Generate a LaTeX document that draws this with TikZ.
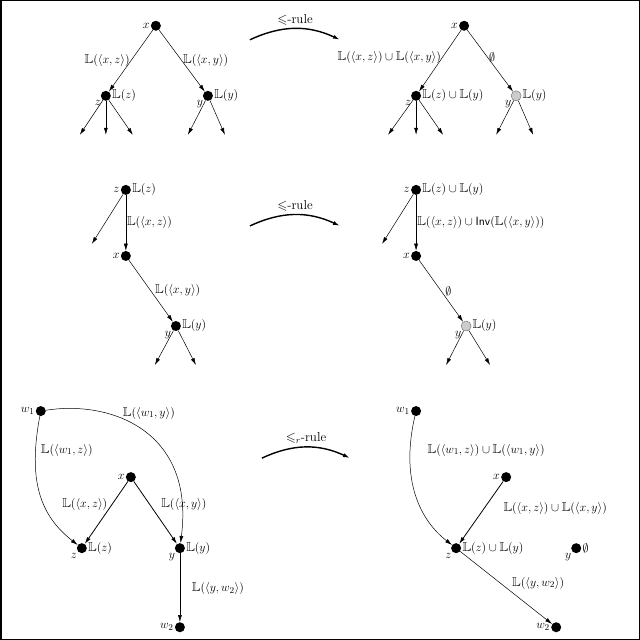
\documentclass[tikz,border=0pt]{standalone}
\usepackage{amssymb}
\usetikzlibrary{arrows.meta}
\begin{document}
\begin{tikzpicture}[x=1bp,y=-1bp,
  dot/.style={circle,fill=black,inner sep=0pt,minimum size=10bp},
  gdot/.style={circle,fill=black!20,draw=black!60,inner sep=0pt,minimum size=10bp},
  lab/.style={font=\fontsize{13}{15}\selectfont,inner sep=1bp},
  ed/.style={-{Latex[length=7bp,width=4bp]},line width=0.5bp},
  rule/.style={-{Latex[length=7bp,width=4bp]},line width=1.4bp,bend left=25}]
\draw[line width=1.5bp] (1,1) rectangle (639,639);
\tikzset{every node/.append style={lab}}
% ---- top left
\node[dot,label={[lab]left:$x$}] (a1) at (156,26) {};
\node[dot,label={[lab]below left:$z$},label={[lab]right:$\mathbb{L}(z)$}] (a2) at (106,96) {};
\node[dot,label={[lab]below left:$y$},label={[lab]right:$\mathbb{L}(y)$}] (a3) at (208,96) {};
\draw[ed] (a1) -- node[left]{$\mathbb{L}(\langle x,z\rangle)$} (a2);
\draw[ed] (a1) -- node[right]{$\mathbb{L}(\langle x,y\rangle)$} (a3);
\foreach \p/\n in {80/1,106/2,133/3}{\coordinate (al\n) at (\p,135); \draw[ed] (a2) -- (al\n);}
\foreach \p/\n in {188/1,225/2}{\coordinate (am\n) at (\p,135); \draw[ed] (a3) -- (am\n);}
\coordinate (r1s) at (250,40); \coordinate (r1e) at (340,40);
\draw[rule] (r1s) to node[above=2bp]{$\leqslant$-rule} (r1e);
% ---- top right
\node[dot,label={[lab]left:$x$}] (b1) at (464,26) {};
\node[dot,label={[lab]below left:$z$},label={[lab]right:$\mathbb{L}(z)\cup\mathbb{L}(y)$}] (b2) at (416,96) {};
\node[gdot,label={[lab]below left:$y$},label={[lab]right:$\mathbb{L}(y)$}] (b3) at (516,96) {};
\draw[ed] (b1) -- node[left,pos=0.45]{$\mathbb{L}(\langle x,z\rangle)\cup\mathbb{L}(\langle x,y\rangle)$} (b2);
\draw[ed] (b1) -- node[right,pos=0.45]{$\emptyset$} (b3);
\foreach \p/\n in {388/1,416/2,443/3}{\coordinate (bl\n) at (\p,135); \draw[ed] (b2) -- (bl\n);}
\foreach \p/\n in {496/1,533/2}{\coordinate (bm\n) at (\p,135); \draw[ed] (b3) -- (bm\n);}
% ---- middle left
\node[dot,label={[lab]left:$z$},label={[lab]right:$\mathbb{L}(z)$}] (c1) at (126,190) {};
\node[dot,label={[lab]left:$x$}] (c2) at (126,256) {};
\node[dot,label={[lab]below left:$y$},label={[lab]right:$\mathbb{L}(y)$}] (c3) at (176,326) {};
\draw[ed] (c1) -- node[right]{$\mathbb{L}(\langle x,z\rangle)$} (c2);
\draw[ed] (c2) -- node[right=3bp]{$\mathbb{L}(\langle x,y\rangle)$} (c3);
\coordinate (cl) at (92,244); \draw[ed] (c1) -- (cl);
\coordinate (cm1) at (155,365); \coordinate (cm2) at (196,365);
\draw[ed] (c3) -- (cm1); \draw[ed] (c3) -- (cm2);
\coordinate (r2s) at (250,226); \coordinate (r2e) at (340,226);
\draw[rule] (r2s) to node[above=2bp]{$\leqslant$-rule} (r2e);
% ---- middle right
\node[dot,label={[lab]left:$z$},label={[lab]right:$\mathbb{L}(z)\cup\mathbb{L}(y)$}] (d1) at (416,190) {};
\node[dot,label={[lab]left:$x$}] (d2) at (416,256) {};
\node[gdot,label={[lab]below left:$y$},label={[lab]right:$\mathbb{L}(y)$}] (d3) at (466,326) {};
\draw[ed] (d1) -- node[right]{$\mathbb{L}(\langle x,z\rangle)\cup\mathsf{Inv}(\mathbb{L}(\langle x,y\rangle))$} (d2);
\draw[ed] (d2) -- node[right=3bp]{$\emptyset$} (d3);
\coordinate (dl) at (382,244); \draw[ed] (d1) -- (dl);
\coordinate (dm1) at (446,365); \coordinate (dm2) at (490,365);
\draw[ed] (d3) -- (dm1); \draw[ed] (d3) -- (dm2);
% ---- bottom left
\node[dot,label={[lab]left:$w_1$}] (e1) at (41,411) {};
\node[dot,label={[lab]left:$x$}] (e2) at (131,477) {};
\node[dot,label={[lab]below left:$z$},label={[lab]right:$\mathbb{L}(z)$}] (e3) at (82,548) {};
\node[dot,label={[lab]below left:$y$},label={[lab]right:$\mathbb{L}(y)$}] (e4) at (180,548) {};
\node[dot,label={[lab]left:$w_2$}] (e5) at (180,627) {};
\draw[ed] (e1) .. controls (28,480) and (40,515) .. (e3);
\node at (67,450) {$\mathbb{L}(\langle w_1,z\rangle)$};
\draw[ed] (e1) .. controls (110,400) and (195,430) .. (e4);
\node at (149,413) {$\mathbb{L}(\langle w_1,y\rangle)$};
\draw[ed,line width=0.8bp] (e2) -- (e3);
\draw[ed,line width=0.8bp] (e2) -- (e4);
\node at (85,504) {$\mathbb{L}(\langle x,z\rangle)$};
\node at (184,504) {$\mathbb{L}(\langle x,y\rangle)$};
\draw[ed] (e4) -- (e5);
\node at (218,588) {$\mathbb{L}(\langle y,w_2\rangle)$};
\coordinate (r3s) at (262,458); \coordinate (r3e) at (350,458);
\draw[rule] (r3s) to node[above=2bp]{$\leqslant_r$-rule} (r3e);
% ---- bottom right
\node[dot,label={[lab]left:$w_1$}] (f1) at (416,411) {};
\node[dot,label={[lab]left:$x$}] (f2) at (506,477) {};
\node[dot,label={[lab]below left:$z$},label={[lab]right:$\mathbb{L}(z)\cup\mathbb{L}(y)$}] (f3) at (456,548) {};
\node[dot,label={[lab]below left:$y$},label={[lab]right:$\emptyset$}] (f4) at (576,548) {};
\node[dot,label={[lab]left:$w_2$}] (f5) at (556,627) {};
\draw[ed] (f1) .. controls (400,480) and (420,520) .. (f3);
\node at (486,450) {$\mathbb{L}(\langle w_1,z\rangle)\cup\mathbb{L}(\langle w_1,y\rangle)$};
\draw[ed,line width=0.8bp] (f2) -- (f3);
\node at (555,508) {$\mathbb{L}(\langle x,z\rangle)\cup\mathbb{L}(\langle x,y\rangle)$};
\draw[ed] (f3) -- (f5);
\node at (538,583) {$\mathbb{L}(\langle y,w_2\rangle)$};
\end{tikzpicture}
\end{document}
